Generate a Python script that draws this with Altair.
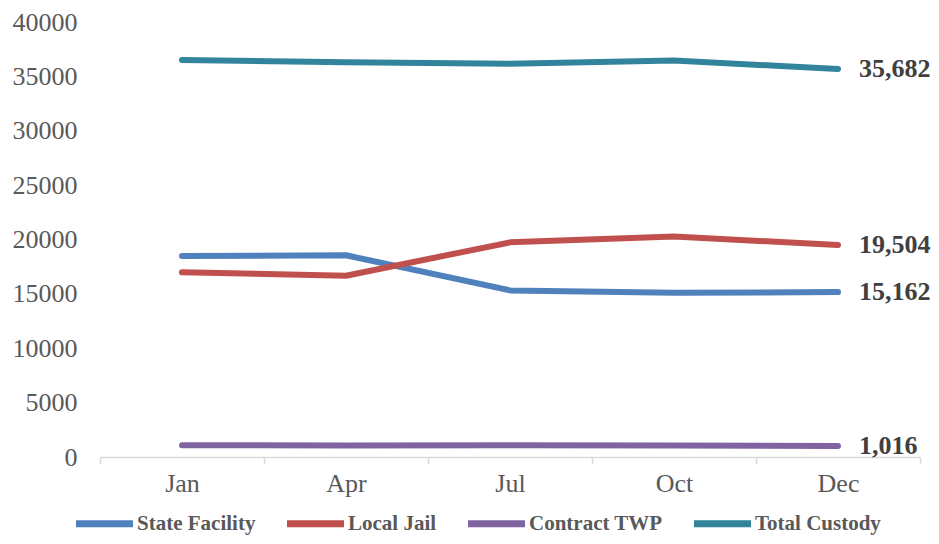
import altair as alt
import pandas as pd

months = ["Jan", "Apr", "Jul", "Oct", "Dec"]
series = ["State Facility", "Local Jail", "Contract TWP", "Total Custody"]
state_facility = [18480, 18550, 15320, 15100, 15162]
local_jail = [16980, 16670, 19740, 20270, 19504]
contract_twp = [1080, 1060, 1090, 1050, 1016]
total_custody = [36510, 36300, 36150, 36450, 35682]
colors = ["#4F81BD", "#C0504D", "#8064A2", "#31849B"]

values = [state_facility, local_jail, contract_twp, total_custody]
rows = []
for s, vals in zip(series, values):
    for m, v in zip(months, vals):
        rows.append({"month": m, "series": s, "value": v})
df = pd.DataFrame(rows)

FONT = "Liberation Serif"

x = alt.X(
    "month:N",
    sort=months,
    bandPosition=0.5,
    scale=alt.Scale(type="band", paddingInner=0, paddingOuter=0),
    axis=alt.Axis(
        title=None,
        labelAngle=0,
        tickBand="extent",
        tickSize=7,
        tickColor="#d9d9d9",
        tickWidth=1.5,
        domainColor="#d9d9d9",
        domainWidth=1.5,
        labelFont=FONT,
        labelFontSize=26,
        labelColor="#595959",
        labelPadding=6,
        grid=False,
    ),
)
y = alt.Y(
    "value:Q",
    scale=alt.Scale(domain=[0, 40000], nice=False),
    axis=alt.Axis(
        title=None,
        values=list(range(0, 40001, 5000)),
        format="d",
        domain=False,
        ticks=False,
        grid=False,
        labelFont=FONT,
        labelFontSize=26,
        labelColor="#595959",
        labelPadding=23,
    ),
)
color = alt.Color(
    "series:N",
    sort=series,
    scale=alt.Scale(domain=series, range=colors),
    legend=alt.Legend(
        title=None,
        orient="none",
        legendX=-28,
        legendY=469,
        direction="horizontal",
        symbolType="stroke",
        symbolStrokeWidth=7,
        symbolSize=3250,
        labelFont=FONT,
        labelFontSize=21,
        labelFontWeight="bold",
        labelColor="#595959",
        labelOffset=0,
        columnPadding=16,
    ),
)

lines = alt.Chart(df).mark_line(strokeWidth=6, strokeCap="round", strokeJoin="round").encode(
    x=x, y=y, color=color, detail="series:N"
)

labels = (
    alt.Chart(df)
    .transform_filter(alt.datum.month == "Dec")
    .mark_text(align="left", baseline="middle", dx=21, font=FONT, fontSize=26, fontWeight="bold", color="#404040")
    .encode(x=x, y=y, text=alt.Text("value:Q", format=","))
)

chart = (
    alt.layer(lines, labels)
    .properties(
        width=820,
        height=435,
        autosize=alt.AutoSizeParams(type="none"),
        padding={"left": 92, "top": 14, "right": 11, "bottom": 79},
    )
    .configure_view(stroke=None)
)

chart.save("out.html", embed_options={"renderer": "svg", "actions": False})
